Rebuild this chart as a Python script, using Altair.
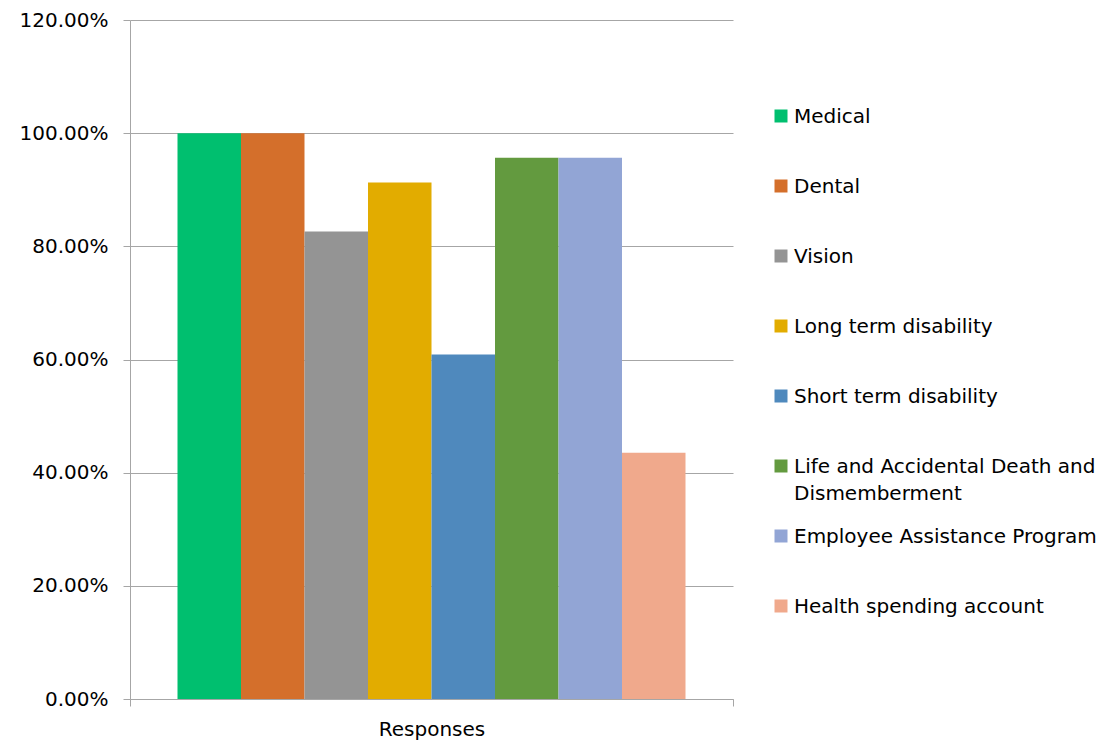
import altair as alt
import pandas as pd

benefits = [
    "Medical",
    "Dental",
    "Vision",
    "Long term disability",
    "Short term disability",
    "Life and Accidental Death and Dismemberment",
    "Employee Assistance Program",
    "Health spending account",
]
legend_labels = [
    "Medical",
    "Dental",
    "Vision",
    "Long term disability",
    "Short term disability",
    "Life and Accidental Death and\nDismemberment",
    "Employee Assistance Program",
    "Health spending account",
]
values = [1.0, 1.0, 0.826, 0.913, 0.609, 0.9565, 0.9565, 0.435]
colors = ["#00BF6F", "#D46F2B", "#949494", "#E2AC00", "#4F89BD", "#639A3F", "#92A5D5", "#F0A98C"]
group = "Responses"

FONT = "DejaVu Sans"
GRID = "#A6A6A6"

df = pd.DataFrame({"benefit": benefits, "value": values, "group": group,
                   "label": legend_labels})

color_scale = alt.Scale(domain=benefits, range=colors)

bars = alt.Chart(df).mark_bar().encode(
    x=alt.X("group:N", title=None,
            scale=alt.Scale(paddingInner=0, paddingOuter=0),
            axis=alt.Axis(tickBand="extent", labelAngle=0, labelFontSize=20,
                          labelFont=FONT, labelColor="#000000", labelPadding=13,
                          domainColor=GRID, tickColor=GRID, tickSize=7,
                          grid=False)),
    xOffset=alt.XOffset("benefit:N", sort=benefits,
                        scale=alt.Scale(paddingInner=0, paddingOuter=0.748)),
    y=alt.Y("value:Q", title=None,
            scale=alt.Scale(domain=[0, 1.2]),
            axis=alt.Axis(values=[0, 0.2, 0.4, 0.6, 0.8, 1.0, 1.2], format=".2%",
                          labelFontSize=20, labelFont=FONT, labelColor="#000000",
                          labelPadding=15, tickSize=7, tickColor=GRID,
                          domainColor=GRID, gridColor=GRID, gridWidth=1)),
    color=alt.Color("benefit:N", scale=color_scale, legend=None),
).properties(width=603, height=679)

leg_y = alt.Y("benefit:N", sort=benefits, axis=None,
              scale=alt.Scale(type="point", range=[96, 586], padding=0))

leg_sq = alt.Chart(df).mark_square(size=169, opacity=1).encode(
    x=alt.value(47),
    y=leg_y,
    color=alt.Color("benefit:N", scale=color_scale, legend=None),
)
leg_txt = alt.Chart(df).mark_text(align="left", baseline="alphabetic", dy=7,
                                  fontSize=20, font=FONT, color="#000000",
                                  lineBreak="\n", lineHeight=27).encode(
    x=alt.value(60),
    y=leg_y,
    text="label:N",
)
legend = alt.layer(leg_sq, leg_txt).properties(width=320, height=679)

chart = alt.hconcat(bars, legend, spacing=0).properties(
    padding={"left": 19, "top": 10, "right": 0, "bottom": 5},
    background="white",
).configure_view(stroke=None, strokeWidth=0)

chart.save("out.html", embed_options={"renderer": "svg", "actions": False})
